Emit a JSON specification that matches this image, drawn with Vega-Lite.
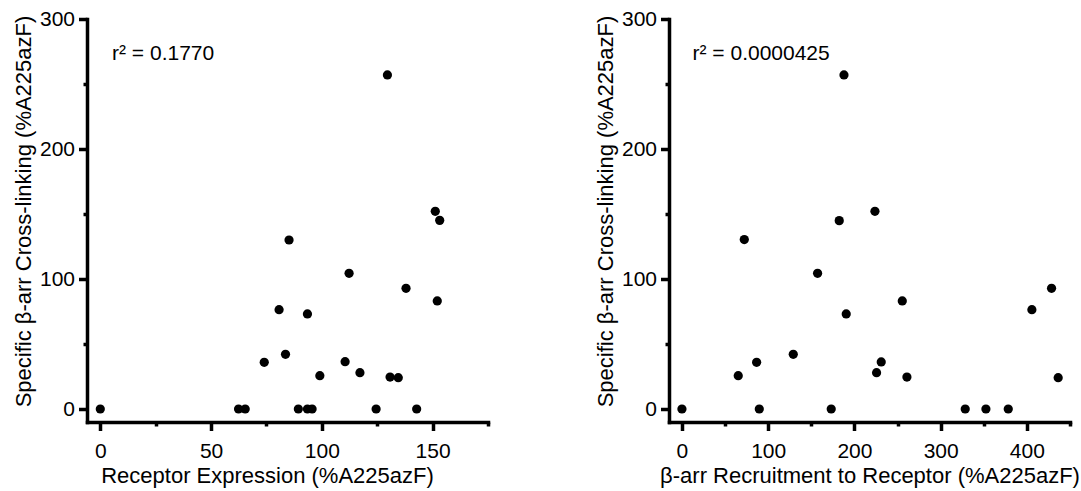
{
  "$schema": "https://vega.github.io/schema/vega-lite/v6.json",
  "background": "white",
  "padding": {"left": 12, "top": 8, "right": 5, "bottom": 5},
  "spacing": 104,
  "config": {
    "font": "Liberation Sans",
    "view": {"stroke": null},
    "axis": {
      "grid": false,
      "domainColor": "black",
      "domainWidth": 3.5,
      "domainCap": "square",
      "tickColor": "black",
      "tickWidth": 3.5,
      "tickSize": 8.5,
      "labelFont": "Liberation Sans",
      "labelFontSize": 21,
      "labelColor": "black",
      "titleFont": "Liberation Sans",
      "titleFontSize": 22,
      "titleFontWeight": "normal",
      "titleColor": "black",
      "labelOverlap": false,
      "labelFlush": false
    }
  },
  "datasets": {
    "expr": [
      {"expression": 0, "crosslink": 0},
      {"expression": 62.4, "crosslink": 0},
      {"expression": 65.4, "crosslink": 0},
      {"expression": 74.0, "crosslink": 35.9},
      {"expression": 80.7, "crosslink": 76.4},
      {"expression": 83.6, "crosslink": 42.1},
      {"expression": 85.2, "crosslink": 130.0},
      {"expression": 89.4, "crosslink": 0},
      {"expression": 93.5, "crosslink": 73.1},
      {"expression": 93.5, "crosslink": 0},
      {"expression": 95.6, "crosslink": 0},
      {"expression": 99.1, "crosslink": 25.6},
      {"expression": 110.5, "crosslink": 36.4},
      {"expression": 112.3, "crosslink": 104.4},
      {"expression": 117.2, "crosslink": 27.9},
      {"expression": 124.5, "crosslink": 0},
      {"expression": 129.6, "crosslink": 257.0},
      {"expression": 130.8, "crosslink": 24.6},
      {"expression": 134.5, "crosslink": 24.1},
      {"expression": 138.0, "crosslink": 92.8},
      {"expression": 142.8, "crosslink": 0},
      {"expression": 151.2, "crosslink": 152.1},
      {"expression": 153.2, "crosslink": 145.1},
      {"expression": 152.1, "crosslink": 83.1}
    ],
    "recruit": [
      {"recruitment": 0, "crosslink": 0},
      {"recruitment": 65.3, "crosslink": 25.6},
      {"recruitment": 72.3, "crosslink": 130.3},
      {"recruitment": 86.6, "crosslink": 35.9},
      {"recruitment": 89.7, "crosslink": 0},
      {"recruitment": 129.1, "crosslink": 42.1},
      {"recruitment": 157.3, "crosslink": 104.4},
      {"recruitment": 173.1, "crosslink": 0},
      {"recruitment": 182.4, "crosslink": 144.9},
      {"recruitment": 187.9, "crosslink": 257.0},
      {"recruitment": 190.5, "crosslink": 73.1},
      {"recruitment": 223.8, "crosslink": 152.1},
      {"recruitment": 225.7, "crosslink": 27.9},
      {"recruitment": 231.1, "crosslink": 36.2},
      {"recruitment": 255.5, "crosslink": 83.1},
      {"recruitment": 260.9, "crosslink": 24.6},
      {"recruitment": 328.5, "crosslink": 0},
      {"recruitment": 352.5, "crosslink": 0},
      {"recruitment": 378.4, "crosslink": 0},
      {"recruitment": 405.8, "crosslink": 76.4},
      {"recruitment": 428.6, "crosslink": 92.8},
      {"recruitment": 436.3, "crosslink": 24.1}
    ],
    "r2left": [{"x": 5.3, "y": 268.5, "label": "r² = 0.1770"}],
    "r2right": [{"x": 12.3, "y": 268.5, "label": "r² = 0.0000425"}]
  },
  "hconcat": [
    {
      "width": 401,
      "height": 403,
      "resolve": {"axis": {"x": "independent", "y": "independent"}},
      "layer": [
        {
          "data": {"name": "expr"},
          "mark": {"type": "point", "filled": true, "shape": "circle", "size": 85, "color": "black", "opacity": 1},
          "encoding": {
            "x": {
              "field": "expression", "type": "quantitative",
              "scale": {"domain": [-6, 175], "nice": false, "zero": false},
              "axis": {
                "orient": "bottom",
                "title": "Receptor Expression (%A225azF)",
                "titleX": 180,
                "values": [0, 50, 100, 150],
                "labelPadding": 10,
                "titlePadding": 4
              }
            },
            "y": {
              "field": "crosslink", "type": "quantitative",
              "scale": {"domain": [-10, 300], "nice": false, "zero": false},
              "axis": {
                "orient": "left",
                "title": "Specific β-arr Cross-linking (%A225azF)",
                "titleY": 192,
                "values": [0, 100, 200, 300],
                "labelPadding": 4,
                "titlePadding": 4
              }
            }
          }
        },
        {
          "data": {"name": "r2left"},
          "mark": {"type": "text", "align": "left", "baseline": "alphabetic", "fontSize": 21, "font": "Liberation Sans", "color": "black"},
          "encoding": {
            "x": {
              "field": "x", "type": "quantitative",
              "scale": {"domain": [-6, 175], "nice": false, "zero": false},
              "axis": {"orient": "bottom", "title": null, "values": [25, 75, 125, 175], "labels": false, "domain": false, "tickSize": 4}
            },
            "y": {
              "field": "y", "type": "quantitative",
              "scale": {"domain": [-10, 300], "nice": false, "zero": false},
              "axis": {"orient": "left", "title": null, "values": [50, 150, 250], "labels": false, "domain": false, "tickSize": 4}
            },
            "text": {"field": "label"}
          }
        }
      ]
    },
    {
      "width": 401,
      "height": 403,
      "resolve": {"axis": {"x": "independent", "y": "independent"}},
      "layer": [
        {
          "data": {"name": "recruit"},
          "mark": {"type": "point", "filled": true, "shape": "circle", "size": 85, "color": "black", "opacity": 1},
          "encoding": {
            "x": {
              "field": "recruitment", "type": "quantitative",
              "scale": {"domain": [-15, 450], "nice": false, "zero": false},
              "axis": {
                "orient": "bottom",
                "title": "β-arr Recruitment to Receptor (%A225azF)",
                "values": [0, 100, 200, 300, 400],
                "labelPadding": 10,
                "titlePadding": 4
              }
            },
            "y": {
              "field": "crosslink", "type": "quantitative",
              "scale": {"domain": [-10, 300], "nice": false, "zero": false},
              "axis": {
                "orient": "left",
                "title": "Specific β-arr Cross-linking (%A225azF)",
                "titleY": 192,
                "values": [0, 100, 200, 300],
                "labelPadding": 4,
                "titlePadding": 4
              }
            }
          }
        },
        {
          "data": {"name": "r2right"},
          "mark": {"type": "text", "align": "left", "baseline": "alphabetic", "fontSize": 21, "font": "Liberation Sans", "color": "black"},
          "encoding": {
            "x": {
              "field": "x", "type": "quantitative",
              "scale": {"domain": [-15, 450], "nice": false, "zero": false},
              "axis": {"orient": "bottom", "title": null, "values": [50, 150, 250, 350, 450], "labels": false, "domain": false, "tickSize": 4}
            },
            "y": {
              "field": "y", "type": "quantitative",
              "scale": {"domain": [-10, 300], "nice": false, "zero": false},
              "axis": {"orient": "left", "title": null, "values": [50, 150, 250], "labels": false, "domain": false, "tickSize": 4}
            },
            "text": {"field": "label"}
          }
        }
      ]
    }
  ]
}
